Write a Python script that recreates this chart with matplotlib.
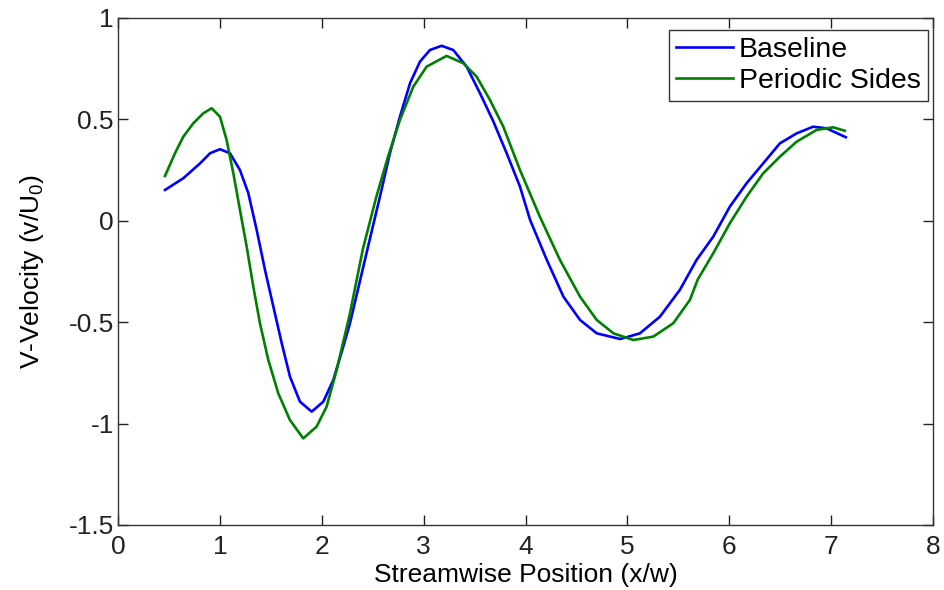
import matplotlib
import numpy as np
from matplotlib import pyplot as plt

matplotlib.use('Agg')

# values
baseline_x = [0.461, 0.641, 0.805, 0.903, 1.001, 1.099, 1.197, 1.279, 1.361, 1.443, 1.525, 1.607,
              1.688, 1.786, 1.901, 2.015, 2.113, 2.211, 2.277, 2.454, 2.571, 2.669, 2.767, 2.866,
              2.964, 3.062, 3.176, 3.291, 3.422, 3.553, 3.684, 3.815, 3.946, 4.045, 4.209, 4.372,
              4.535, 4.699, 4.930, 5.123, 5.319, 5.516, 5.679, 5.843, 6.006, 6.170, 6.333, 6.497,
              6.661, 6.824, 6.955, 7.144]
baseline_y = [0.152, 0.21, 0.283, 0.333, 0.353, 0.333, 0.25, 0.136, -0.045, -0.243, -0.424, -0.604,
              -0.769, -0.892, -0.941, -0.892, -0.785, -0.621, -0.505, -0.128, 0.119, 0.333, 0.513, 0.678,
              0.785, 0.842, 0.863, 0.842, 0.760, 0.629, 0.49, 0.333, 0.168, 0.004, -0.193, -0.374,
              -0.489, -0.555, -0.583, -0.555, -0.473, -0.34, -0.193, -0.078, 0.070, 0.185, 0.283, 0.382,
              0.431, 0.464, 0.456, 0.412]

periodic_x = [0.461, 0.559, 0.641, 0.739, 0.837, 0.919, 1.001, 1.066, 1.132, 1.197, 1.263, 1.328,
              1.393, 1.475, 1.573, 1.687, 1.818, 1.949, 2.047, 2.146, 2.277, 2.405, 2.536, 2.650,
              2.767, 2.898, 3.029, 3.225, 3.389, 3.520, 3.651, 3.782, 3.946, 4.141, 4.338, 4.535,
              4.699, 4.863, 5.059, 5.255, 5.451, 5.614, 5.69, 5.843, 6.006, 6.170, 6.333, 6.497,
              6.661, 6.857, 7.020, 7.134]
periodic_y = [0.221, 0.333, 0.415, 0.481, 0.530, 0.555, 0.513, 0.398, 0.234, 0.053, -0.128, -0.325,
              -0.505, -0.686, -0.851, -0.982, -1.073, -1.015, -0.917, -0.736, -0.456, -0.136, 0.119, 0.316,
              0.497, 0.661, 0.760, 0.813, 0.777, 0.711, 0.596, 0.464, 0.25, 0.020, -0.193, -0.374,
              -0.489, -0.555, -0.588, -0.571, -0.505, -0.39, -0.29, -0.160, -0.012, 0.119, 0.234, 0.316,
              0.390, 0.448, 0.461, 0.444]

series_labels = ['Baseline', 'Periodic Sides']
x_ticks = [0, 1, 2, 3, 4, 5, 6, 7, 8]
y_ticks = [-1.5, -1, -0.5, 0, 0.5, 1]
y_tick_labels = ['-1.5', '-1', '-0.5', '0', '0.5', '1']

plt.rcParams['font.family'] = ['Liberation Sans', 'DejaVu Sans']
plt.rcParams['mathtext.fontset'] = 'custom'
plt.rcParams['mathtext.rm'] = 'Liberation Sans'
plt.rcParams['mathtext.it'] = 'Liberation Sans'

fs = 19

fig = plt.figure(figsize=(9.45, 5.9), dpi=100)
ax = fig.add_axes([0.1249, 0.1102, 0.8624, 0.8593])

ax.plot(baseline_x, baseline_y, color=(0, 0, 1), linewidth=1.9, label=series_labels[0])
ax.plot(periodic_x, periodic_y, color=(0, 0.5, 0), linewidth=1.9, label=series_labels[1])

ax.set_xlim(0, 8)
ax.set_ylim(-1.5, 1)
ax.set_xticks(x_ticks)
ax.set_yticks(y_ticks)
ax.set_yticklabels(y_tick_labels)
ax.tick_params(direction='in', length=7, width=1, top=True, right=True,
               labelsize=fs, colors='#222222')
ax.tick_params(axis='x', pad=7)
ax.tick_params(axis='y', pad=3)
for s in ax.spines.values():
    s.set_linewidth(1.0)
    s.set_color('#333333')

ax.set_xlabel('Streamwise Position (x/w)', fontsize=fs, labelpad=3)
ax.set_ylabel(r'V-Velocity (v/U$_\mathregular{0}$)', fontsize=fs, labelpad=16)

leg = ax.legend(loc='upper right', bbox_to_anchor=(0.994, 0.976), fontsize=20.5,
                fancybox=False, framealpha=1, edgecolor='#333333', handlelength=2.0,
                handletextpad=0.2, borderpad=0.25, labelspacing=0.15, borderaxespad=0)
leg.get_frame().set_linewidth(1.0)

fig.savefig('out.png', dpi=100)
